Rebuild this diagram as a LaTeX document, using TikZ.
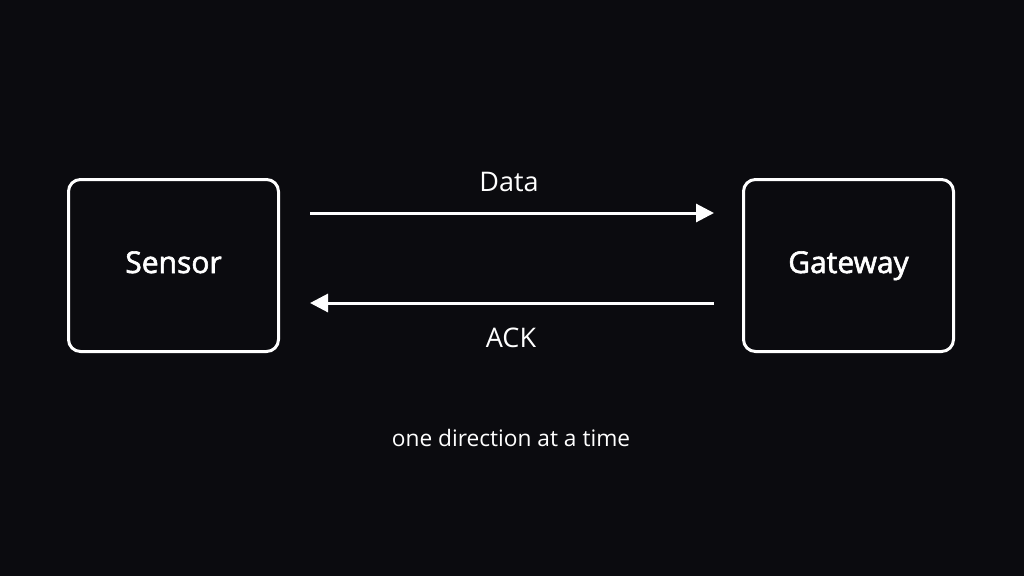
\documentclass[tikz,border=0pt]{standalone}
\usepackage{fontspec}
\setmainfont{Open Sans}
\newfontfamily\medfont[FakeBold=2]{Open Sans}
\usetikzlibrary{arrows.meta}
\definecolor{bg}{HTML}{0B0B0F}
\begin{document}
\begin{tikzpicture}[x=1pt,y=-1pt,
  box/.style={draw=white,line width=3pt,rounded corners=12pt,minimum width=210pt,minimum height=172pt,inner sep=0pt,text height=21pt,text depth=6pt,font=\medfont\fontsize{30}{34}\selectfont,text=white},
  conn/.style={draw=white,line width=3pt,-{Triangle[length=18pt,width=18pt]}},
  lbl/.style={text=white,font=\fontsize{27}{30}\selectfont,inner sep=0pt}]
\fill[bg] (0,0) rectangle (1024,576);
\useasboundingbox (0,0) rectangle (1024,576);
\node[box] (sensor) at (173.5,265.5) {Sensor};
\node[box] (gateway) at (848.5,265.5) {Gateway};
\coordinate (a1) at (310,213);
\coordinate (a2) at (714,213);
\coordinate (b1) at (714,303);
\coordinate (b2) at (310,303);
\draw[conn] (a1) -- (a2);
\draw[conn] (b1) -- (b2);
\node[lbl] (data) at (509,182) {Data};
\node[lbl] (ack) at (511,338) {ACK};
\node[lbl,font=\fontsize{22.7}{26}\selectfont] (cap) at (511,438) {one direction at a time};
\end{tikzpicture}
\end{document}
